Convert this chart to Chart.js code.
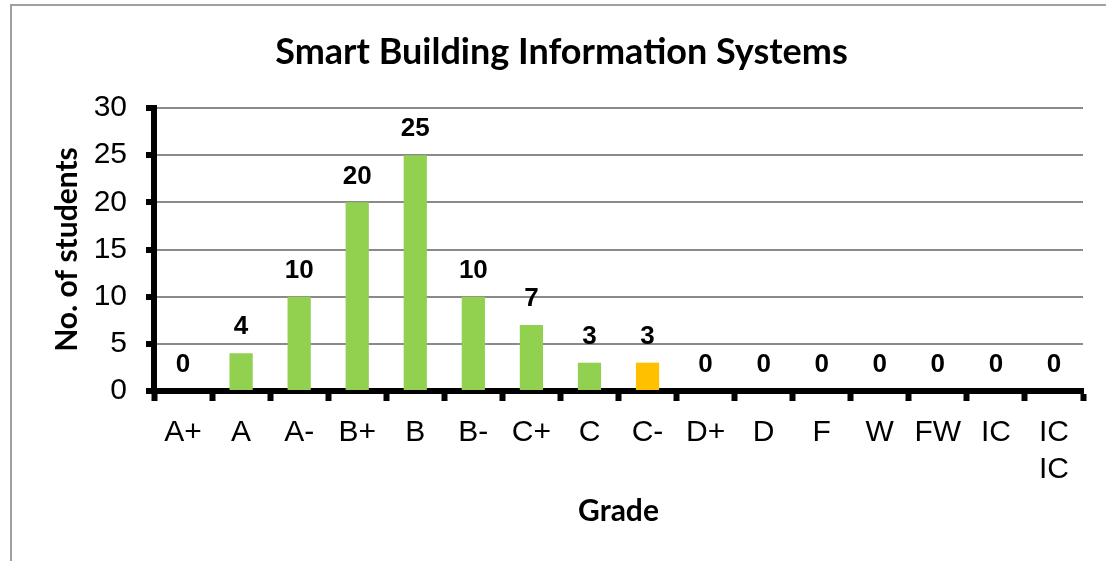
<!DOCTYPE html>
<html>
<head>
<meta charset="utf-8">
<script src="https://cdn.jsdelivr.net/npm/chart.js@4.4.1/dist/chart.umd.min.js"></script>
<style>
  html, body { margin: 0; padding: 0; background: #fff; }
  #wrap { position: relative; width: 1106px; height: 561px; overflow: hidden; }
  #frame { position: absolute; left: 10px; top: 4px; width: 1200px; height: 700px; border-left: 2px solid #a0a0a0; border-top: 2px solid #a0a0a0; box-sizing: border-box; }
  canvas { position: absolute; left: 0; top: 0; }
</style>
</head>
<body>
<div id="wrap">
  <div id="frame"></div>
  <canvas id="c" width="1106" height="561"></canvas>
</div>
<script>
const titleText = 'Smart Building Information Systems';
const categories = ['A+', 'A', 'A-', 'B+', 'B', 'B-', 'C+', 'C', 'C-', 'D+', 'D', 'F', 'W', 'FW', 'IC', ['IC', 'IC']];
const students = [0, 4, 10, 20, 25, 10, 7, 3, 3, 0, 0, 0, 0, 0, 0, 0];
const barColors = ['#92D050', '#92D050', '#92D050', '#92D050', '#92D050', '#92D050', '#92D050', '#92D050', '#FFC000', '#92D050', '#92D050', '#92D050', '#92D050', '#92D050', '#92D050', '#92D050'];
const yTicks = [0, 5, 10, 15, 20, 25, 30];
const xTitle = 'Grade';
const yTitle = 'No. of students';

const valueLabels = {
  id: 'valueLabels',
  afterDatasetsDraw(chart) {
    const ctx = chart.ctx;
    const meta = chart.getDatasetMeta(0);
    ctx.save();
    ctx.font = 'bold 26px "Liberation Sans", Arial, sans-serif';
    ctx.fillStyle = '#000';
    ctx.textAlign = 'center';
    ctx.textBaseline = 'middle';
    meta.data.forEach((bar, i) => {
      ctx.fillText(String(chart.data.datasets[0].data[i]), bar.x, bar.y - 26);
    });
    ctx.restore();
  }
};

new Chart(document.getElementById('c'), {
  type: 'bar',
  data: {
    labels: categories,
    datasets: [{
      data: students,
      backgroundColor: barColors,
      borderWidth: 0,
      barPercentage: 0.4,
      categoryPercentage: 1.0
    }]
  },
  options: {
    responsive: false,
    animation: false,
    events: [],
    layout: { padding: { left: 40, right: 23, top: 0, bottom: 0 } },
    plugins: {
      legend: { display: false },
      tooltip: { enabled: false },
      title: {
        display: true,
        text: titleText,
        color: '#000',
        font: { family: 'Lato, "Open Sans", sans-serif', size: 36, weight: 'bold', lineHeight: 1.2 },
        padding: { top: 31, bottom: 33.8 }
      }
    },
    scales: {
      x: {
        afterFit(scale) { scale.height = 170; },
        grid: { display: true, drawOnChartArea: false, drawTicks: true, tickLength: 10, tickWidth: 6, tickColor: '#000', offset: true },
        border: { display: true, color: '#000', width: 6 },
        ticks: { color: '#000', font: { family: '"Liberation Sans", Arial, sans-serif', size: 30, lineHeight: 1.23 }, padding: 13, maxRotation: 0, autoSkip: false },
        title: { display: true, text: xTitle, color: '#000', font: { family: 'Lato, "Open Sans", sans-serif', size: 30, weight: 'bold', lineHeight: 1.2 }, padding: { top: 0, bottom: 32 } }
      },
      y: {
        min: 0,
        max: 30,
        afterFit(scale) { scale.width = 114; },
        afterBuildTicks(scale) { scale.ticks = yTicks.map(v => ({ value: v })); },
        grid: { color: '#8a8a8a', lineWidth: 2, drawTicks: true, tickLength: 8, tickWidth: 6, tickColor: '#000' },
        border: { display: true, color: '#000', width: 6 },
        ticks: { color: '#000', font: { family: '"Liberation Sans", Arial, sans-serif', size: 30 }, padding: 19 },
        title: { display: true, text: yTitle, color: '#000', font: { family: 'Lato, "Open Sans", sans-serif', size: 30, weight: 'bold', lineHeight: 1.2 }, padding: { top: 9, bottom: 0 } }
      }
    }
  },
  plugins: [valueLabels]
});
</script>
</body>
</html>
